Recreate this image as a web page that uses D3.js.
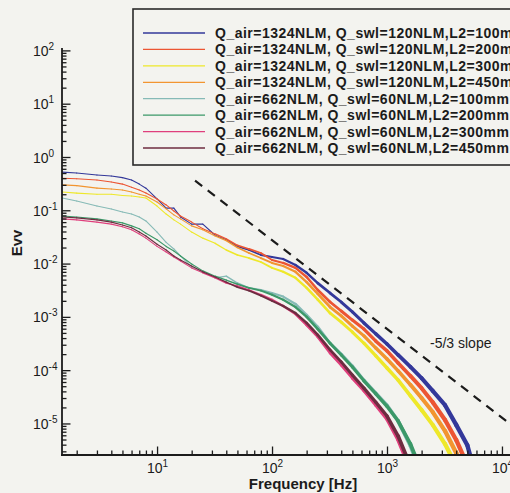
<!DOCTYPE html>
<html>
<head>
<meta charset="utf-8">
<script src="https://cdn.jsdelivr.net/npm/d3@7"></script>
<style>
  html, body { margin: 0; padding: 0; background: #f3f3ef; }
  svg { display: block; font-family: "Liberation Sans", Arial, sans-serif; }
</style>
</head>
<body>
<div id="chart"></div>
<script>
// Evv spectra (log-log)

const FREQ = [1.5, 2, 3, 4, 5, 6, 7, 8, 10, 12, 14, 16, 20, 25, 32, 40, 50, 63, 80, 100,
  125, 160, 200, 250, 320, 400, 500, 630, 800, 1000, 1250, 1600, 2000, 2500, 3200, 4000, 5000, 6300];

const E_1324_L100 = [0.52, 0.50, 0.46, 0.44, 0.41, 0.37, 0.31, 0.26, 0.163, 0.110, 0.110, 7.5e-2, 5.5e-2, 5.5e-2,
  3.4e-2, 2.8e-2, 2.1e-2, 1.8e-2, 1.45e-2, 1.33e-2, 1.22e-2, 9.4e-3, 6.7e-3, 4.3e-3, 2.8e-3, 1.9e-3, 1.24e-3,
  7.7e-4, 4.8e-4, 3.1e-4, 1.93e-4, 1.15e-4, 7.1e-5, 4.1e-5, 2.2e-5, 9.4e-6, 3.9e-6, 6.2e-7];
const E_1324_L200 = [0.40, 0.39, 0.37, 0.34, 0.31, 0.27, 0.24, 0.21, 0.163, 0.126, 9.7e-2, 7.8e-2, 6.0e-2, 4.5e-2,
  3.6e-2, 2.9e-2, 2.2e-2, 1.88e-2, 1.58e-2, 1.17e-2, 1.03e-2, 8.3e-3, 5.6e-3, 3.2e-3, 1.9e-3, 1.29e-3, 8.7e-4,
  5.9e-4, 3.5e-4, 2.3e-4, 1.36e-4, 7.8e-5, 4.6e-5, 2.5e-5, 1.16e-5, 4.9e-6, 1.66e-6, 3.7e-7];
const E_1324_L300 = [0.22, 0.21, 0.20, 0.20, 0.19, 0.185, 0.178, 0.170, 0.120, 8.5e-2, 6.6e-2, 5.5e-2, 3.9e-2, 3.0e-2,
  2.4e-2, 1.8e-2, 1.45e-2, 1.27e-2, 1.07e-2, 8.3e-3, 7.0e-3, 5.4e-3, 3.5e-3, 2.1e-3, 1.18e-3, 8.0e-4, 5.2e-4,
  3.2e-4, 1.85e-4, 1.10e-4, 6.5e-5, 3.3e-5, 1.79e-5, 9.4e-6, 4.1e-6, 1.60e-6, 4.5e-7, 1.25e-7];
const E_1324_L450 = [0.30, 0.29, 0.26, 0.25, 0.24, 0.22, 0.20, 0.185, 0.143, 0.106, 8.2e-2, 6.9e-2, 5.1e-2, 4.3e-2,
  3.3e-2, 2.7e-2, 2.0e-2, 1.58e-2, 1.27e-2, 1.03e-2, 9.0e-3, 7.0e-3, 4.5e-3, 2.7e-3, 1.53e-3, 1.04e-3, 6.7e-4,
  4.4e-4, 2.6e-4, 1.62e-4, 9.7e-5, 5.3e-5, 3.0e-5, 1.64e-5, 7.2e-6, 2.8e-6, 8.7e-7, 1.9e-7];
const E_662_L100 = [0.170, 0.149, 0.120, 0.106, 9.3e-2, 8.5e-2, 7.5e-2, 6.3e-2, 3.9e-2, 2.5e-2, 1.88e-2, 1.39e-2, 8.6e-3, 7.0e-3,
  5.4e-3, 5.8e-3, 4.3e-3, 3.5e-3, 3.2e-3, 2.8e-3, 2.4e-3, 1.75e-3, 1.09e-3, 6.5e-4, 3.2e-4, 2.0e-4, 1.20e-4,
  6.5e-5, 3.7e-5, 2.2e-5, 1.11e-5, 3.8e-6, 1.08e-6, null, null, null, null, null];
const E_662_L200 = [7.8e-2, 7.5e-2, 6.9e-2, 6.3e-2, 5.8e-2, 5.1e-2, 4.5e-2, 3.7e-2, 2.8e-2, 2.1e-2, 1.72e-2, 1.39e-2, 9.8e-3, 7.3e-3,
  5.8e-3, 4.9e-3, 4.1e-3, 3.5e-3, 3.1e-3, 2.6e-3, 2.1e-3, 1.53e-3, 1.0e-3, 5.9e-4, 3.2e-4, 1.93e-4, 1.15e-4,
  6.3e-5, 3.6e-5, 2.1e-5, 1.11e-5, 4.1e-6, 1.23e-6, null, null, null, null, null];
const E_662_L300 = [6.9e-2, 6.6e-2, 6.0e-2, 5.5e-2, 4.9e-2, 4.3e-2, 3.6e-2, 3.0e-2, 2.1e-2, 1.65e-2, 1.33e-2, 1.12e-2, 8.3e-3, 6.7e-3,
  5.4e-3, 4.3e-3, 3.8e-3, 3.2e-3, 2.6e-3, 2.1e-3, 1.60e-3, 1.13e-3, 7.0e-4, 4.2e-4, 2.1e-4, 1.25e-4, 7.1e-5,
  4.1e-5, 2.2e-5, 1.21e-5, 4.9e-6, 1.34e-6, null, null, null, null, null, null];
const E_662_L450 = [7.5e-2, 7.2e-2, 6.6e-2, 6.0e-2, 5.3e-2, 4.7e-2, 3.9e-2, 3.3e-2, 2.3e-2, 1.8e-2, 1.39e-2, 1.17e-2, 9.0e-3, 7.0e-3,
  5.6e-3, 4.5e-3, 3.6e-3, 3.1e-3, 2.5e-3, 2.0e-3, 1.60e-3, 1.18e-3, 7.7e-4, 4.6e-4, 2.4e-4, 1.43e-4, 8.1e-5,
  4.6e-5, 2.5e-5, 1.38e-5, 5.8e-6, 1.60e-6, null, null, null, null, null, null];

const SERIES_NAMES = [
  'Q_air=1324NLM, Q_swl=120NLM,L2=100mm',
  'Q_air=1324NLM, Q_swl=120NLM,L2=200mm',
  'Q_air=1324NLM, Q_swl=120NLM,L2=300mm',
  'Q_air=1324NLM, Q_swl=120NLM,L2=450mm',
  'Q_air=662NLM, Q_swl=60NLM,L2=100mm',
  'Q_air=662NLM, Q_swl=60NLM,L2=200mm',
  'Q_air=662NLM, Q_swl=60NLM,L2=300mm',
  'Q_air=662NLM, Q_swl=60NLM,L2=450mm'
];
const SERIES_VALUES = [E_1324_L100, E_1324_L200, E_1324_L300, E_1324_L450,
  E_662_L100, E_662_L200, E_662_L300, E_662_L450];

// -5/3 reference line
const SLOPE_F = [21.4, 12000];
const SLOPE_E = [0.36, 9.5e-6];
const SLOPE_LABEL = '-5/3 slope';

const X_DOMAIN = [1.49, 14350];
const Y_DOMAIN = [2.56e-6, 100];
const X_MAJOR = [1e1, 1e2, 1e3, 1e4];
const Y_MAJOR = [1e-5, 1e-4, 1e-3, 1e-2, 1e-1, 1e0, 1e1, 1e2];

const COLORS = ['#33389a', '#ec5533', '#eee82a', '#f29530', '#86bab6', '#3b9868', '#df3f7c', '#6e2c40'];

// ==============================================
const W = 510, H = 493;
const L = 62, R = 520, T = 50.4, B = 455;
const FONT = '"Liberation Sans", Arial, sans-serif';
const INK = '#1b1b1b';

const x = d3.scaleLog().domain(X_DOMAIN).range([L, R]);
const y = d3.scaleLog().domain(Y_DOMAIN).range([B, T]);

const svg = d3.select('#chart').append('svg')
  .attr('width', W).attr('height', H);

svg.append('rect').attr('width', W).attr('height', H).attr('fill', '#f3f3ef');

svg.append('defs').append('clipPath').attr('id', 'plot-clip')
  .append('rect').attr('x', L).attr('y', T - 2).attr('width', R - L).attr('height', B - T + 2);

// minor tick values per decade
function minors(domain) {
  const out = [];
  const lo = Math.floor(Math.log10(domain[0])), hi = Math.ceil(Math.log10(domain[1]));
  for (let d = lo; d < hi; d++) {
    for (let k = 2; k <= 9; k++) {
      const v = k * Math.pow(10, d);
      if (v >= domain[0] && v <= domain[1]) out.push(v);
    }
  }
  return out;
}

function powerLabels(sel) {
  sel.selectAll('.tick text').each(function(d) {
    const t = d3.select(this).text(null);
    const e = Math.round(Math.log10(d));
    t.append('tspan').text('10');
    t.append('tspan').attr('dy', -6).attr('font-size', 10).text(e < 0 ? '-' + (-e) : String(e));
  });
}

// Curves
const line = d3.line().x(d => x(d[0])).y(d => y(d[1]));
const noise = f => f < 25 ? 1.1 : Math.min(4.4, 1.1 + 1.5 * Math.log10(f / 25));

const plot = svg.append('g').attr('clip-path', 'url(#plot-clip)');

SERIES_VALUES.forEach((vals, si) => {
  const g = plot.append('g')
    .attr('fill', 'none')
    .attr('stroke', COLORS[si])
    .attr('stroke-linecap', 'round')
    .attr('stroke-linejoin', 'round');
  for (let i = 0; i < FREQ.length - 1; i++) {
    const a = vals[i], b = vals[i + 1];
    if (a == null || b == null) continue;
    g.append('path')
      .attr('d', line([[FREQ[i], a], [FREQ[i + 1], b]]))
      .attr('stroke-width', noise(Math.sqrt(FREQ[i] * FREQ[i + 1])));
  }
});

// slope line
plot.append('path')
  .attr('d', line(SLOPE_F.map((f, i) => [f, SLOPE_E[i]])))
  .attr('fill', 'none')
  .attr('stroke', INK)
  .attr('stroke-width', 2.2)
  .attr('stroke-dasharray', '9,7');

svg.append('text')
  .attr('x', 430).attr('y', 348)
  .attr('font-size', 14).attr('fill', INK)
  .text(SLOPE_LABEL);

// Y axis
const gy = svg.append('g').attr('transform', `translate(${L},0)`);
gy.call(d3.axisLeft(y).tickValues(minors(Y_DOMAIN)).tickSize(-4.5).tickFormat(''))
  .call(g => g.select('.domain').remove());
gy.append('g').call(d3.axisLeft(y).tickValues(Y_MAJOR).tickSize(-8.5).tickPadding(0))
  .call(g => g.select('.domain').remove())
  .call(g => g.selectAll('.tick text')
    .attr('x', -29).attr('dy', '0.36em')
    .attr('text-anchor', 'start')
    .attr('font-size', 14).attr('font-family', FONT).attr('fill', INK))
  .call(powerLabels);
gy.append('line').attr('x1', 0).attr('x2', 0).attr('y1', T - 2.5).attr('y2', B + 0.8);

// X axis
const gx = svg.append('g').attr('transform', `translate(0,${B})`);
gx.call(d3.axisBottom(x).tickValues(minors(X_DOMAIN)).tickSize(-4.5).tickFormat(''))
  .call(g => g.select('.domain').remove());
gx.append('g').call(d3.axisBottom(x).tickValues(X_MAJOR).tickSize(-8.5).tickPadding(0))
  .call(g => g.select('.domain').remove())
  .call(g => g.selectAll('.tick text')
    .attr('y', 18).attr('dy', 0)
    .attr('font-size', 14).attr('font-family', FONT).attr('fill', INK))
  .call(powerLabels);
gx.append('line').attr('x1', L - 1).attr('x2', W + 10).attr('y1', 0).attr('y2', 0);

svg.selectAll('.tick line').attr('stroke', INK).attr('stroke-width', 1.3);
gy.selectAll(':scope > line').attr('stroke', INK).attr('stroke-width', 1.8);
gx.selectAll(':scope > line').attr('stroke', INK).attr('stroke-width', 1.8);

// Axis titles
svg.append('text')
  .attr('x', 303).attr('y', 489)
  .attr('text-anchor', 'middle')
  .attr('font-size', 15).attr('font-weight', 'bold').attr('fill', INK)
  .text('Frequency [Hz]');

svg.append('text')
  .attr('transform', 'translate(22,243) rotate(-90)')
  .attr('text-anchor', 'middle')
  .attr('font-size', 15).attr('font-weight', 'bold').attr('fill', INK)
  .text('Evv');

// Legend
const leg = svg.append('g');
leg.append('rect')
  .attr('x', 133).attr('y', 9)
  .attr('width', 400).attr('height', 156)
  .attr('fill', '#f3f3ef')
  .attr('stroke', '#2a2a2a').attr('stroke-width', 1.6);

SERIES_NAMES.forEach((name, i) => {
  const cy = 33 + i * 16.43;
  leg.append('line')
    .attr('x1', 143).attr('x2', 205)
    .attr('y1', cy).attr('y2', cy)
    .attr('stroke', COLORS[i]).attr('stroke-width', 1.3);
  leg.append('text')
    .attr('x', 215).attr('y', cy + 5)
    .attr('font-size', 14).attr('font-weight', 'bold')
    .attr('letter-spacing', 0.5).attr('fill', INK)
    .text(name);
});
</script>
</body>
</html>
